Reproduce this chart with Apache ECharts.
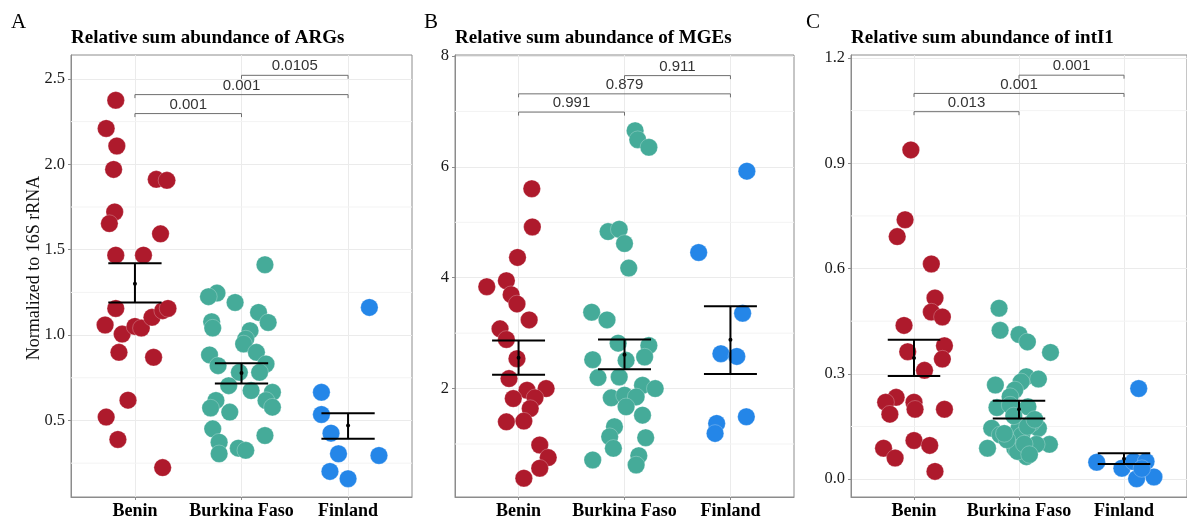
<!DOCTYPE html>
<html><head><meta charset="utf-8">
<script src="https://cdn.jsdelivr.net/npm/echarts@6.0.0/dist/echarts.min.js"></script>
<style>html,body{margin:0;padding:0;background:#fff}#c{width:1187px;height:520px}</style>
</head><body><div id="c"></div><script>
// ---------- data ----------
const categories = ['Benin', 'Burkina Faso', 'Finland'];
const panelLetters = ['A', 'B', 'C'];
const panelTitles = ['Relative sum abundance of ARGs', 'Relative sum abundance of MGEs', 'Relative sum abundance of intI1'];
const yAxisName = 'Normalized to 16S rRNA';
const groupColors = ['#AE1A2C', '#45AB99', '#2486E8'];

// Panel A: ARGs (values and horizontal jitter in category units)
const argsBenin = [2.375, 2.21, 2.107, 1.97, 1.912, 1.906, 1.721, 1.653, 1.593, 1.468, 1.468, 1.156, 1.059, 1.006, 1.051, 1.041, 1.104, 1.143, 1.156, 0.899, 0.870, 0.619, 0.520, 0.389, 0.224];
const argsBeninJit = [-0.18, -0.27, -0.17, -0.20, 0.20, 0.30, -0.19, -0.24, 0.24, -0.18, 0.08, -0.18, -0.28, -0.12, 0.00, 0.06, 0.16, 0.26, 0.31, -0.15, 0.175, -0.065, -0.27, -0.16, 0.26];
const argsBurkina = [1.412, 1.246, 1.225, 1.191, 1.133, 1.074, 1.078, 1.041, 1.026, 0.977, 0.948, 0.899, 0.884, 0.831, 0.821, 0.782, 0.782, 0.704, 0.675, 0.665, 0.617, 0.617, 0.573, 0.578, 0.549, 0.451, 0.373, 0.412, 0.338, 0.325, 0.305];
const argsBurkinaJit = [0.22, -0.23, -0.31, -0.06, 0.16, 0.25, -0.28, -0.27, 0.08, 0.04, 0.02, 0.14, -0.30, 0.23, -0.22, 0.17, -0.02, -0.12, 0.09, 0.29, -0.24, 0.23, -0.29, 0.29, -0.11, -0.27, -0.21, 0.22, -0.03, 0.04, -0.21];
const argsFinland = [1.162, 0.665, 0.535, 0.426, 0.305, 0.295, 0.202, 0.159];
const argsFinlandJit = [0.20, -0.25, -0.25, -0.16, -0.09, 0.29, -0.17, 0.00];
const argsMean = [1.30, 0.778, 0.471];
const argsLow = [1.191, 0.716, 0.393];
const argsHigh = [1.421, 0.835, 0.543];
const argsBrackets = [[1, 2, 2.297, '0.001'], [1, 3, 2.408, '0.001'], [2, 3, 2.521, '0.0105']];
const argsTicks = [0.5, 1.0, 1.5, 2.0, 2.5];
const argsMinor = [0.25, 0.75, 1.25, 1.75, 2.25];

// Panel B: MGEs
const mgeBenin = [5.605, 4.916, 4.366, 3.838, 3.946, 3.694, 3.527, 3.239, 3.078, 2.886, 2.539, 2.18, 1.97, 2.0, 1.82, 1.833, 1.64, 1.40, 1.413, 0.982, 0.755, 0.563, 0.383];
const mgeBeninJit = [0.125, 0.13, -0.01, -0.30, -0.115, -0.07, -0.015, 0.10, -0.175, -0.115, -0.015, -0.09, 0.08, 0.26, -0.05, 0.155, 0.11, -0.115, 0.05, 0.20, 0.28, 0.20, 0.05];
const mgeBurkina = [6.652, 6.49, 6.353, 4.832, 4.874, 4.617, 4.174, 3.378, 3.239, 2.82, 2.778, 2.521, 2.509, 2.569, 2.198, 2.21, 2.06, 2.0, 1.833, 1.88, 1.85, 1.671, 1.521, 1.312, 1.132, 1.114, 0.922, 0.712, 0.79, 0.622];
const mgeBurkinaJit = [0.10, 0.125, 0.23, -0.155, -0.05, 0.00, 0.04, -0.31, -0.165, -0.06, 0.23, -0.30, 0.015, 0.19, -0.25, -0.05, 0.17, 0.29, -0.125, 0.00, 0.11, 0.015, 0.17, -0.095, -0.14, 0.20, -0.105, -0.30, 0.135, 0.11];
const mgeFinland = [5.922, 4.455, 3.36, 2.629, 2.58, 1.491, 1.371, 1.191];
const mgeFinlandJit = [0.155, -0.30, 0.115, -0.09, 0.06, 0.15, -0.13, -0.145];
const mgeMean = [2.557, 2.611, 2.88];
const mgeLow = [2.251, 2.347, 2.263];
const mgeHigh = [2.868, 2.886, 3.486];
const mgeBrackets = [[1, 2, 6.988, '0.991'], [1, 3, 7.317, '0.879'], [2, 3, 7.646, '0.911']];
const mgeTicks = [2, 4, 6, 8];
const mgeMinor = [1, 3, 5, 7];

// Panel C: intI1
const intBenin = [0.938, 0.739, 0.691, 0.613, 0.516, 0.476, 0.462, 0.438, 0.38, 0.363, 0.342, 0.31, 0.233, 0.219, 0.219, 0.199, 0.185, 0.199, 0.11, 0.088, 0.096, 0.06, 0.022];
const intBeninJit = [-0.03, -0.085, -0.16, 0.165, 0.20, 0.165, 0.27, -0.095, 0.29, -0.06, 0.27, 0.10, -0.17, -0.27, 0.00, 0.01, -0.23, 0.29, 0.00, -0.29, 0.15, -0.18, 0.20];
const intBurkina = [0.487, 0.424, 0.412, 0.391, 0.361, 0.268, 0.292, 0.285, 0.277, 0.254, 0.235, 0.204, 0.206, 0.211, 0.145, 0.145, 0.145, 0.126, 0.124, 0.088, 0.099, 0.099, 0.088, 0.064, 0.079, 0.112, 0.16, 0.13, 0.10, 0.18, 0.15, 0.07, 0.17];
const intBurkinaJit = [-0.19, -0.18, 0.00, 0.08, 0.30, -0.225, 0.07, 0.185, 0.02, -0.04, -0.085, -0.21, 0.085, -0.085, -0.26, 0.00, 0.185, -0.18, 0.025, -0.30, 0.29, 0.165, -0.04, 0.07, -0.015, -0.115, 0.12, -0.14, 0.05, -0.05, 0.08, 0.10, 0.15];
const intFinland = [0.258, 0.048, 0.031, 0.05, 0.05, 0.001, 0.006, 0.03];
const intFinlandJit = [0.14, -0.26, -0.02, 0.09, 0.21, 0.12, 0.285, 0.17];
const intMean = [0.345, 0.199, 0.058];
const intLow = [0.294, 0.173, 0.043];
const intHigh = [0.397, 0.223, 0.074];
const intBrackets = [[1, 2, 1.047, '0.013'], [1, 3, 1.099, '0.001'], [2, 3, 1.151, '0.001']];
const intTicks = [0.0, 0.3, 0.6, 0.9, 1.2];
const intMinor = [0.15, 0.45, 0.75, 1.05];

// ---------- layout / style ----------
const SERIF = '"Liberation Serif", "Times New Roman", serif';
const SANS = '"Liberation Sans", Arial, sans-serif';
const grids = [
  { left: 71, top: 55, width: 341, height: 444 },
  { left: 455, top: 55, width: 339, height: 444 },
  { left: 851, top: 55, width: 339, height: 444 }
];
const panels = [
  { groups: [[argsBenin, argsBeninJit], [argsBurkina, argsBurkinaJit], [argsFinland, argsFinlandJit]],
    mean: argsMean, low: argsLow, high: argsHigh, brackets: argsBrackets, ticks: argsTicks, minor: argsMinor,
    yMin: 0.052, yMax: 2.64, fmt: v => v.toFixed(1) },
  { groups: [[mgeBenin, mgeBeninJit], [mgeBurkina, mgeBurkinaJit], [mgeFinland, mgeFinlandJit]],
    mean: mgeMean, low: mgeLow, high: mgeHigh, brackets: mgeBrackets, ticks: mgeTicks, minor: mgeMinor,
    yMin: 0.044, yMax: 8.018, fmt: v => String(Math.round(v)) },
  { groups: [[intBenin, intBeninJit], [intBurkina, intBurkinaJit], [intFinland, intFinlandJit]],
    mean: intMean, low: intLow, high: intHigh, brackets: intBrackets, ticks: intTicks, minor: intMinor,
    yMin: -0.051, yMax: 1.2085, fmt: v => v.toFixed(1) }
];

const xAxes = [], yAxes = [], series = [], graphics = [];
panels.forEach((p, i) => {
  xAxes.push({
    type: 'value', gridIndex: i, min: 0.4, max: 3.6,
    axisLine: { show: true, onZero: false, lineStyle: { color: '#8c8c8c', width: 1 } },
    axisTick: { show: true, length: 3, customValues: [1, 2, 3], lineStyle: { color: '#8c8c8c' } },
    axisLabel: { customValues: [1, 2, 3], formatter: v => categories[Math.round(v) - 1] || '', margin: 5,
      fontFamily: SERIF, fontWeight: 'bold', fontSize: 18, color: '#000' },
    splitLine: { show: true, lineStyle: { color: '#EBEBEB', width: 1 } }
  });
  yAxes.push({
    type: 'value', gridIndex: i, min: p.yMin, max: p.yMax,
    axisLine: { show: true, onZero: false, lineStyle: { color: '#8c8c8c', width: 1 } },
    axisTick: { show: true, length: 3, customValues: p.ticks, lineStyle: { color: '#8c8c8c' } },
    axisLabel: { customValues: p.ticks, formatter: p.fmt, margin: 6,
      fontFamily: SERIF, fontSize: 16.5, color: '#1a1a1a' },
    splitLine: { show: true, lineStyle: { color: '#EBEBEB', width: 1 } }
  });
  // minor grid lines
  series.push({
    type: 'custom', xAxisIndex: i, yAxisIndex: i, z: 1, silent: true,
    data: p.minor.map(v => [2, v]),
    renderItem: (params, api) => {
      const cs = params.coordSys;
      const y = api.coord([2, api.value(1)])[1];
      return { type: 'line', shape: { x1: cs.x, y1: y, x2: cs.x + cs.width, y2: y },
        style: { stroke: '#F3F3F3', lineWidth: 1 } };
    }
  });
  // points
  p.groups.forEach((g, c) => {
    series.push({
      type: 'scatter', xAxisIndex: i, yAxisIndex: i, z: 3, silent: true,
      symbol: 'circle', symbolSize: 17.5,
      itemStyle: { color: groupColors[c], opacity: 1, borderColor: 'rgba(255,255,255,0.5)', borderWidth: 0.5 },
      data: g[0].map((v, k) => [c + 1 + g[1][k], v])
    });
  });
  // error bars
  series.push({
    type: 'custom', xAxisIndex: i, yAxisIndex: i, z: 5, silent: true,
    data: p.mean.map((m, c) => [c + 1, m, p.low[c], p.high[c]]),
    renderItem: (params, api) => {
      const x = api.value(0), m = api.value(1), lo = api.value(2), hi = api.value(3);
      const pLo = api.coord([x, lo]), pHi = api.coord([x, hi]), pM = api.coord([x, m]);
      const l = api.coord([x - 0.25, lo])[0], r = api.coord([x + 0.25, lo])[0];
      const st = { stroke: '#000', lineWidth: 2 };
      return { type: 'group', children: [
        { type: 'line', shape: { x1: pLo[0], y1: pLo[1], x2: pHi[0], y2: pHi[1] }, style: st },
        { type: 'line', shape: { x1: l, y1: pLo[1], x2: r, y2: pLo[1] }, style: st },
        { type: 'line', shape: { x1: l, y1: pHi[1], x2: r, y2: pHi[1] }, style: st },
        { type: 'circle', shape: { cx: pM[0], cy: pM[1], r: 2 }, style: { fill: '#000' } }
      ] };
    }
  });
  // significance brackets
  series.push({
    type: 'custom', xAxisIndex: i, yAxisIndex: i, z: 6, silent: true,
    data: p.brackets.map(b => [b[0], b[1], b[2]]),
    renderItem: (params, api) => {
      const b = p.brackets[params.dataIndex];
      const a = api.coord([api.value(0), api.value(2)]);
      const e = api.coord([api.value(1), api.value(2)]);
      const tip = 3.5;
      return { type: 'group', children: [
        { type: 'polyline', shape: { points: [[a[0], a[1] + tip], [a[0], a[1]], [e[0], e[1]], [e[0], e[1] + tip]] },
          style: { stroke: '#6e6e6e', lineWidth: 1, fill: null } },
        { type: 'text', style: { text: b[3], x: (a[0] + e[0]) / 2, y: a[1] - 9, align: 'center', verticalAlign: 'middle',
          font: '15px ' + SANS, fill: '#333' } }
      ] };
    }
  });
  // titles
  graphics.push({ type: 'text', left: grids[i].left, top: 29,
    style: { text: panelTitles[i], font: 'bold 19px ' + SERIF, fill: '#000' } });
});
graphics.push({ type: 'text', left: 11, top: 12, style: { text: panelLetters[0], font: '21px ' + SERIF, fill: '#000' } });
graphics.push({ type: 'text', left: 424, top: 12, style: { text: panelLetters[1], font: '21px ' + SERIF, fill: '#000' } });
graphics.push({ type: 'text', left: 806, top: 12, style: { text: panelLetters[2], font: '21px ' + SERIF, fill: '#000' } });
graphics.push({ type: 'text', x: 34, y: 268, rotation: Math.PI / 2,
  style: { text: yAxisName, font: '18px ' + SERIF, fill: '#111', align: 'center', verticalAlign: 'middle' } });

const chart = echarts.init(document.getElementById('c'), null, { renderer: 'canvas' });
chart.setOption({
  animation: false,
  backgroundColor: '#fff',
  grid: grids.map(g => Object.assign({ show: true, borderColor: '#8c8c8c', borderWidth: 1, backgroundColor: 'transparent' }, g)),
  xAxis: xAxes,
  yAxis: yAxes,
  series: series,
  graphic: graphics
});
</script></body></html>
